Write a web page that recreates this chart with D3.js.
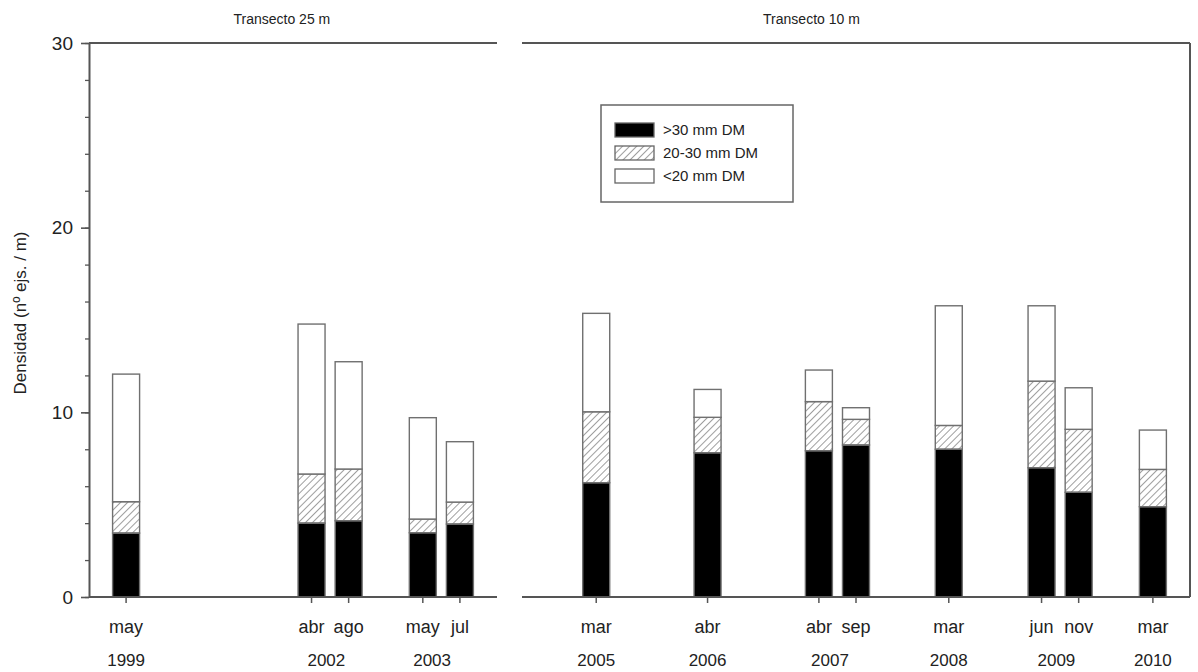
<!DOCTYPE html>
<html>
<head>
<meta charset="utf-8">
<script src="https://cdnjs.cloudflare.com/ajax/libs/d3/7.8.5/d3.min.js"></script>
<style>
  body { margin: 0; background: #fff; }
  text { font-family: "Liberation Sans", Arial, sans-serif; fill: #222; }
</style>
</head>
<body>
<div id="chart"></div>
<script>
// Data
var panels = ["Transecto 25 m", "Transecto 10 m"];
var panelOf = [0, 0, 0, 0, 0, 1, 1, 1, 1, 1, 1, 1, 1];
var months = ["may", "abr", "ago", "may", "jul", "mar", "abr", "abr", "sep", "mar", "jun", "nov", "mar"];
var slot = [1, 6, 7, 9, 10, 2, 5, 8, 9, 11.5, 14, 15, 17];   // x slot of each sampling on its transect axis
var big = [3.46, 4.0, 4.13, 3.48, 3.95, 6.19, 7.81, 7.92, 8.23, 8.0, 7.0, 5.67, 4.89];      // >30 mm DM
var mid = [1.70, 2.66, 2.80, 0.74, 1.19, 3.84, 1.92, 2.66, 1.39, 1.29, 4.69, 3.41, 2.02];   // 20-30 mm DM
var small = [6.91, 8.12, 5.81, 5.49, 3.27, 5.33, 1.51, 1.71, 0.63, 6.48, 4.08, 2.25, 2.13]; // <20 mm DM
var years = ["1999", "2002", "2003", "2005", "2006", "2007", "2008", "2009", "2010"];
var yearPanel = [0, 0, 0, 1, 1, 1, 1, 1, 1];
var yearSlot = [1, 6.4, 9.25, 2, 5, 8.3, 11.5, 14.4, 17];
var panelSlots = [11, 18];
var titleSlot = [5.2, 7.8];
var keys = ["big", "mid", "small"];
var legendLabels = [">30 mm DM", "20-30 mm DM", "<20 mm DM"];

var width = 1198, height = 672;
var y0 = 597, yTop = 43;

var svg = d3.select("#chart").append("svg")
    .attr("width", width)
    .attr("height", height);

// hatch pattern for the middle class
svg.append("defs").append("pattern")
    .attr("id", "hatch")
    .attr("patternUnits", "userSpaceOnUse")
    .attr("width", 5)
    .attr("height", 5)
    .attr("patternTransform", "rotate(45)")
  .append("line")
    .attr("x1", 0).attr("y1", 0)
    .attr("x2", 0).attr("y2", 5)
    .attr("stroke", "#6a6a6a")
    .attr("stroke-width", 1.3);

var fills = { big: "#000", mid: "url(#hatch)", small: "#fff" };

// scales: two broken x segments sharing one y axis
var y = d3.scaleLinear().domain([0, 30]).range([y0, yTop]);
var xs = [
  d3.scaleLinear().domain([0, panelSlots[0]]).range([89, 497]),
  d3.scaleLinear().domain([0, panelSlots[1]]).range([522, 1190])
];

var rows = months.map(function(m, i) {
  return { i: i, big: big[i], mid: mid[i], small: small[i] };
});
var series = d3.stack().keys(keys)(rows);
var barW = 27;

svg.append("g")
  .selectAll("g")
  .data(series)
  .enter().append("g")
    .attr("fill", function(d) { return fills[d.key]; })
  .selectAll("rect")
  .data(function(d) { return d; })
  .enter().append("rect")
    .attr("x", function(d) { var i = d.data.i; return xs[panelOf[i]](slot[i]) - barW / 2; })
    .attr("y", function(d) { return y(d[1]); })
    .attr("width", barW)
    .attr("height", function(d) { return y(d[0]) - y(d[1]); })
    .attr("stroke", "#707070")
    .attr("stroke-width", 1.4);

// frame lines
var axisColor = "#555";
[0, 1].forEach(function(p) {
  var r = xs[p].range();
  svg.append("line")
      .attr("x1", r[0]).attr("x2", r[1])
      .attr("y1", y0).attr("y2", y0)
      .attr("stroke", axisColor).attr("stroke-width", 2);
  svg.append("line")
      .attr("x1", r[0]).attr("x2", r[1])
      .attr("y1", yTop).attr("y2", yTop)
      .attr("stroke", axisColor).attr("stroke-width", 2);
  svg.append("text")
      .attr("x", xs[p](titleSlot[p]))
      .attr("y", 24)
      .attr("text-anchor", "middle")
      .style("font-size", "14px")
      .text(panels[p]);
});
svg.append("line")
    .attr("x1", 1190).attr("x2", 1190)
    .attr("y1", yTop).attr("y2", y0)
    .attr("stroke", axisColor).attr("stroke-width", 2);

// x ticks and month labels
var xt = svg.append("g")
  .selectAll("g")
  .data(months)
  .enter().append("g")
    .attr("transform", function(d, i) { return "translate(" + xs[panelOf[i]](slot[i]) + "," + y0 + ")"; });
xt.append("line")
    .attr("y1", 0).attr("y2", 6)
    .attr("stroke", axisColor).attr("stroke-width", 1.5);
xt.append("text")
    .attr("y", 36)
    .attr("text-anchor", "middle")
    .style("font-size", "18px")
    .text(function(d) { return d; });

// year labels
svg.append("g")
  .selectAll("text")
  .data(years)
  .enter().append("text")
    .attr("x", function(d, i) { return xs[yearPanel[i]](yearSlot[i]); })
    .attr("y", 666)
    .attr("text-anchor", "middle")
    .style("font-size", "17px")
    .text(function(d) { return d; });

// y axis with minor ticks
svg.append("g")
    .attr("transform", "translate(89,0)")
    .call(d3.axisLeft(y).tickValues(d3.range(0, 31, 2)).tickSize(4).tickFormat(""))
    .call(function(g) { g.select(".domain").remove(); })
    .selectAll("line").attr("stroke", axisColor).attr("stroke-width", 1.3);

var yAxis = svg.append("g")
    .attr("transform", "translate(89,0)")
    .call(d3.axisLeft(y).tickValues([0, 10, 20, 30]).tickSize(8).tickPadding(8).tickSizeOuter(0));
yAxis.select(".domain").attr("stroke", axisColor).attr("stroke-width", 2);
yAxis.selectAll("line").attr("stroke", axisColor).attr("stroke-width", 1.6);
yAxis.selectAll("text")
    .style("font-size", "19px")
    .style("font-family", "'Liberation Sans', Arial, sans-serif")
    .attr("fill", "#222");

svg.append("text")
    .attr("transform", "rotate(-90)")
    .attr("x", -(y0 + yTop) / 2 + 7)
    .attr("y", 26)
    .attr("text-anchor", "middle")
    .style("font-size", "17px")
    .text("Densidad (nº ejs. / m)");

// legend
var legend = svg.append("g").attr("transform", "translate(601,105)");
legend.append("rect")
    .attr("width", 192).attr("height", 97)
    .attr("fill", "#fff")
    .attr("stroke", "#666").attr("stroke-width", 1.5);
var item = legend.selectAll(".item")
  .data(keys)
  .enter().append("g")
    .attr("transform", function(d, i) { return "translate(14," + (18 + i * 23) + ")"; });
item.append("rect")
    .attr("width", 39).attr("height", 14)
    .attr("fill", function(d) { return fills[d]; })
    .attr("stroke", "#666").attr("stroke-width", 1.3);
item.append("text")
    .attr("x", 48).attr("y", 7)
    .attr("dy", "0.35em")
    .style("font-size", "15px")
    .text(function(d, i) { return legendLabels[i]; });
</script>
</body>
</html>
